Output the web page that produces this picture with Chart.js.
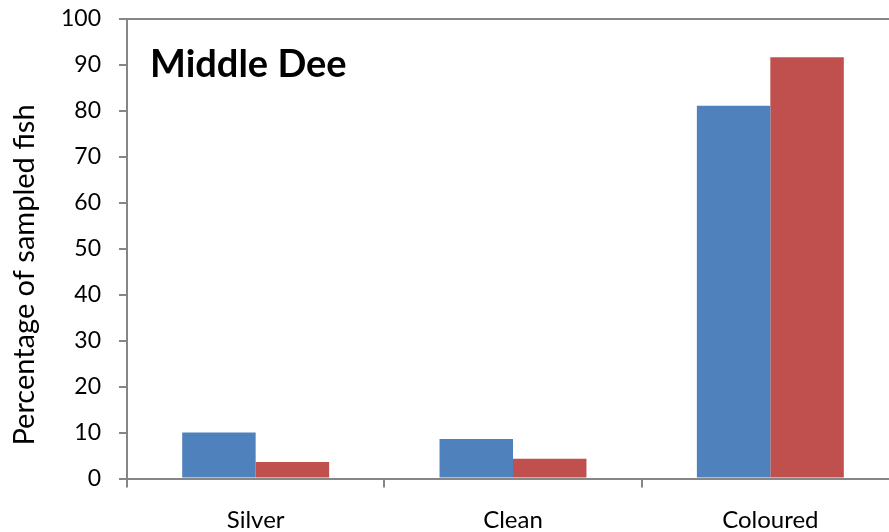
<!DOCTYPE html>
<html>
<head>
<meta charset="utf-8">
<script src="https://cdn.jsdelivr.net/npm/chart.js@4/dist/chart.umd.min.js"></script>
<style>
  html, body { margin: 0; padding: 0; background: #fff; overflow: hidden; }
  #wrap { position: absolute; left: 0; top: 0; width: 900px; height: 532px; }
</style>
</head>
<body>
<div id="wrap"><canvas id="chart" width="900" height="532"></canvas></div>
<script>
// Fish condition classes on the middle Dee
const categories = ['Silver', 'Clean', 'Coloured'];
const seriesA = [10.0, 8.6, 81.1];
const seriesB = [3.6, 4.3, 91.7];
const yTicks = [0, 10, 20, 30, 40, 50, 60, 70, 80, 90, 100];
const panelTitle = 'Middle Dee';
const yTitle = 'Percentage of sampled fish';

const axisGrey = '#868686';
const fontFamily = 'Lato, "Open Sans", sans-serif';

// Panel name inside the plot area and the rotated value-axis title
const panelText = {
  id: 'panelText',
  afterDraw(chart) {
    const { ctx, chartArea } = chart;
    ctx.save();
    ctx.fillStyle = '#000';
    ctx.font = 'bold 38px ' + fontFamily;
    ctx.textBaseline = 'alphabetic';
    ctx.textAlign = 'left';
    ctx.fillText(panelTitle, chartArea.left + 23, chartArea.top + 58);

    ctx.font = '29px ' + fontFamily;
    ctx.textAlign = 'center';
    ctx.textBaseline = 'middle';
    ctx.translate(25, 275);
    ctx.rotate(-Math.PI / 2);
    ctx.fillText(yTitle, 0, 0);
    ctx.restore();
  }
};

new Chart(document.getElementById('chart'), {
  type: 'bar',
  data: {
    labels: categories,
    datasets: [
      { label: 'A', data: seriesA, backgroundColor: '#4F81BD', categoryPercentage: 0.571, barPercentage: 1.0 },
      { label: 'B', data: seriesB, backgroundColor: '#C0504D', categoryPercentage: 0.571, barPercentage: 1.0 }
    ]
  },
  options: {
    responsive: false,
    animation: false,
    devicePixelRatio: 1,
    layout: { padding: { top: 19, right: 1, left: 0, bottom: 0 } },
    plugins: { legend: { display: false }, tooltip: { enabled: false }, title: { display: false } },
    scales: {
      x: {
        offset: true,
        grid: {
          offset: true,
          drawOnChartArea: false,
          drawTicks: true,
          tickLength: 9,
          tickColor: axisGrey,
          lineWidth: 2
        },
        border: { color: axisGrey, width: 2 },
        ticks: {
          color: '#000',
          font: { family: fontFamily, size: 24 },
          padding: 18,
          maxRotation: 0
        },
        afterFit(scale) { scale.height = 532 - 478.5; }
      },
      y: {
        min: 0,
        max: 100,
        afterBuildTicks(scale) { scale.ticks = yTicks.map(v => ({ value: v })); },
        grid: {
          drawTicks: true,
          tickLength: 8,
          tickColor: axisGrey,
          lineWidth: 2,
          color: ctx => (ctx.tick && ctx.tick.value === 100) ? axisGrey : 'rgba(0,0,0,0)'
        },
        border: { color: axisGrey, width: 2 },
        ticks: {
          color: '#000',
          font: { family: fontFamily, size: 23 },
          padding: 18
        },
        afterFit(scale) {
          scale.width = 127;
          scale.paddingTop = 0;
          scale.paddingBottom = 0;
        }
      }
    }
  },
  plugins: [panelText]
});
</script>
</body>
</html>
